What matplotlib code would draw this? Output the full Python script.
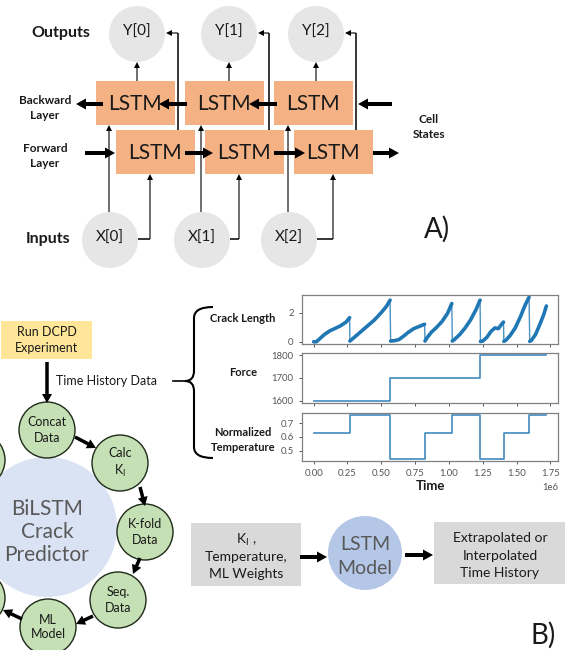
import matplotlib.pyplot as plt
from matplotlib.patches import Circle, Rectangle, PathPatch
from matplotlib.path import Path
import numpy as np

plt.rcParams['font.family'] = ['Lato', 'DejaVu Sans']
plt.rcParams['mathtext.fontset'] = 'custom'
plt.rcParams['mathtext.rm'] = 'Lato'

# ---- time history data (time in units of 1e6) ----
crack_t = [
    [0.0, 0.02, 0.05, 0.08, 0.12, 0.16, 0.20, 0.24, 0.266],
    [0.268, 0.30, 0.35, 0.40, 0.45, 0.50, 0.54, 0.565],
    [0.569, 0.60, 0.63, 0.66, 0.70, 0.74, 0.78, 0.82],
    [0.823, 0.84, 0.87, 0.91, 0.95, 0.99, 1.021],
    [1.025, 1.04, 1.08, 1.12, 1.16, 1.20, 1.23],
    [1.233, 1.25, 1.28, 1.31, 1.34, 1.365, 1.385, 1.403],
    [1.406, 1.42, 1.45, 1.49, 1.53, 1.56, 1.592],
    [1.597, 1.61, 1.64, 1.67, 1.70, 1.72],
]
crack_len = [
    [0.0, 0.0, 0.25, 0.5, 0.75, 0.92, 1.1, 1.35, 1.65],
    [0.05, 0.3, 0.7, 1.1, 1.5, 2.0, 2.45, 2.85],
    [0.05, 0.08, 0.15, 0.35, 0.65, 0.9, 1.05, 1.2],
    [0.05, 0.3, 0.65, 1.0, 1.4, 1.95, 2.62],
    [0.05, 0.15, 0.5, 0.95, 1.5, 2.2, 2.85],
    [0.02, 0.05, 0.3, 0.7, 0.95, 0.9, 1.15, 1.35],
    [0.03, 0.1, 0.4, 0.95, 1.75, 2.45, 3.05],
    [0.03, 0.1, 0.5, 1.15, 1.85, 2.45],
]
force_t = [0.0, 0.567, 1.232, 1.72]
force = [1600, 1700, 1800, 1800]
temp_t = [0.0, 0.266, 0.567, 0.822, 1.023, 1.232, 1.405, 1.595, 1.72]
temp = [0.625, 0.757, 0.44, 0.625, 0.757, 0.44, 0.625, 0.757, 0.757]

# ---- diagram labels ----
y_labels = ['Y[0]', 'Y[1]', 'Y[2]']
x_labels = ['X[0]', 'X[1]', 'X[2]']
ring_labels = ['Concat\nData', 'Calc\nK$_\\mathregular{I}$', 'K-fold\nData',
               'Seq.\nData', 'ML\nModel', '', '']
in_lines = ['K$_\\mathregular{I}$ ,', 'Temperature,', 'ML Weights']
out_lines = ['Extrapolated or', 'Interpolated', 'Time History']

fig = plt.figure(figsize=(5.74, 6.5), dpi=100)
ax = fig.add_axes([0, 0, 1, 1])
ax.set_xlim(0, 574)
ax.set_ylim(650, 0)
ax.axis('off')

ORANGE = '#F4B183'
GREY = '#E6E6E6'
INK = '#1a1a1a'


def big_arrow(x0, y0, x1, y1, w=4, hw=11, hl=10):
    ax.arrow(x0, y0, x1 - x0, y1 - y0, width=w, head_width=hw, head_length=hl,
             length_includes_head=True, color='black', lw=0, zorder=5)


def thin_arrow(pts):
    xs, ys = zip(*pts)
    ax.plot(xs[:-1], ys[:-1], color='black', lw=1.1, zorder=4, solid_capstyle='butt')
    ax.arrow(xs[-2], ys[-2], xs[-1] - xs[-2], ys[-1] - ys[-2], width=1.1,
             head_width=6, head_length=6, length_includes_head=True,
             color='black', lw=0, zorder=4)


# ---- part A: bidirectional LSTM ----
y_cx = [137, 229, 316]
x_cx = [110, 202, 289]
bw_x = [96, 185, 274]
fw_x = [116, 205, 294]
for i in range(3):
    ax.add_patch(Circle((y_cx[i], 34), 28, fc=GREY, ec='none'))
    ax.text(y_cx[i], 32, y_labels[i], ha='center', va='center', fontsize=11, color=INK)
    ax.add_patch(Circle((x_cx[i], 240), 28, fc=GREY, ec='none'))
    ax.text(x_cx[i], 238, x_labels[i], ha='center', va='center', fontsize=11, color=INK)
    ax.add_patch(Rectangle((bw_x[i], 81), 79, 44, fc=ORANGE, ec='none', zorder=2))
    ax.text(bw_x[i] + 39, 104, 'LSTM', ha='center', va='center', fontsize=15, color=INK, zorder=6)
    ax.add_patch(Rectangle((fw_x[i], 130), 79, 44, fc=ORANGE, ec='none', zorder=2))
    ax.text(fw_x[i] + 39, 153, 'LSTM', ha='center', va='center', fontsize=15, color=INK, zorder=6)

    # input to backward cell
    thin_arrow([(x_cx[i] - 1, 212), (x_cx[i] - 1, 125)])
    # input to forward cell
    xf = [150, 239, 333][i]
    thin_arrow([(x_cx[i] + 28, 239), (xf, 239), (xf, 174)])
    # forward cell to output
    xu = [178, 269, 356][i]
    thin_arrow([(xu, 130), (xu, 33), (y_cx[i] + 29, 33)])
    # backward cell to output
    thin_arrow([(y_cx[i], 81), (y_cx[i], 62)])

for x0, x1 in [(392, 358), (277, 249), (187, 159), (103, 76)]:
    big_arrow(x0, 104, x1, 104)
for x0, x1 in [(85, 115), (185, 213), (274, 305), (373, 399)]:
    big_arrow(x0, 153, x1, 153)

ax.text(61, 33, 'Outputs', ha='center', va='center', fontsize=11.5, fontweight='bold', color=INK)
ax.text(48, 239, 'Inputs', ha='center', va='center', fontsize=11.5, fontweight='bold', color=INK)
ax.text(45, 108, 'Backward\nLayer', ha='center', va='center', fontsize=8.5,
        fontweight='bold', linespacing=1.45, color=INK)
ax.text(45, 156, 'Forward\nLayer', ha='center', va='center', fontsize=8.5,
        fontweight='bold', linespacing=1.45, color=INK)
ax.text(429, 127, 'Cell\nStates', ha='center', va='center', fontsize=8.5,
        fontweight='bold', linespacing=1.45, color=INK)
ax.text(437, 229, 'A)', ha='center', va='center', fontsize=20, color=INK)

# ---- part B: workflow ----
ax.add_patch(Rectangle((1, 321), 91, 38, fc='#FFE699', ec='none'))
ax.text(47, 340, 'Run DCPD\nExperiment', ha='center', va='center', fontsize=9,
        color=INK, linespacing=1.3)
big_arrow(47, 362, 47, 403, w=3.5, hw=10, hl=9)
ax.text(56, 381, 'Time History Data', ha='left', va='center', fontsize=9, color=INK)
ax.plot([173, 186], [381, 381], color='black', lw=1.2)

brace = Path(
    [(213, 307), (194, 307), (194, 318), (194, 371), (194, 381), (185, 381),
     (194, 381), (194, 391), (194, 447), (194, 458), (213, 458)],
    [Path.MOVETO, Path.CURVE3, Path.CURVE3, Path.LINETO, Path.CURVE3, Path.CURVE3,
     Path.CURVE3, Path.CURVE3, Path.LINETO, Path.CURVE3, Path.CURVE3])
ax.add_patch(PathPatch(brace, fc='none', ec='black', lw=1.5))

ax.add_patch(Circle((47, 527), 70, fc='#DAE3F3', ec='none', zorder=1))
ax.text(47, 532, 'BiLSTM\nCrack\nPredictor', ha='center', va='center', fontsize=15,
        color='#595959', linespacing=1.2, zorder=2)

ring_xy = [(47, 430), (120, 463), (145, 532), (118, 600), (48, 627), (-23, 598), (-23, 460)]
for (cx, cy), lab in zip(ring_xy, ring_labels):
    ax.add_patch(Circle((cx, cy), 28, fc='#C5E0B4', ec='#1e2a1a', lw=1, zorder=3))
    ax.text(cx, cy, lab, ha='center', va='center', fontsize=9, color=INK,
            linespacing=1.3, zorder=4)

for x0, y0, x1, y1 in [(75, 437, 96, 448), (140, 487, 145, 506), (140, 558, 133, 574),
                       (93, 616, 76, 624), (22, 619, 3, 610)]:
    big_arrow(x0, y0, x1, y1, w=3.5, hw=10, hl=9)

ax.add_patch(Rectangle((191, 523), 110, 63, fc='#D9D9D9', ec='none'))
for k, line in enumerate(in_lines):
    ax.text(246, 540 + 17 * k, line, ha='center', va='center', fontsize=10, color=INK)
big_arrow(300, 557, 327, 557)
ax.add_patch(Circle((365, 553), 37, fc='#B4C7E7', ec='none'))
ax.text(365, 545, 'LSTM', ha='center', va='center', fontsize=14, color='#595959')
ax.text(365, 568, 'Model', ha='center', va='center', fontsize=14, color='#595959')
big_arrow(405, 555, 433, 555)
ax.add_patch(Rectangle((434, 522), 131, 62, fc='#D9D9D9', ec='none'))
for k, line in enumerate(out_lines):
    ax.text(500, 538 + 17.5 * k, line, ha='center', va='center', fontsize=10, color=INK)
ax.text(543, 635, 'B)', ha='center', va='center', fontsize=20, color=INK)

ax.text(243, 319, 'Crack Length', ha='center', va='center', fontsize=8, fontweight='bold', color=INK)
ax.text(243, 373, 'Force', ha='center', va='center', fontsize=8, fontweight='bold', color=INK)
ax.text(243, 440, 'Normalized\nTemperature', ha='center', va='center', fontsize=8,
        fontweight='bold', linespacing=1.5, color=INK)

# ---- time history panels ----
W, H = 574, 650
def panel(top, bottom):
    a = fig.add_axes([302 / W, 1 - bottom / H, 256 / W, (bottom - top) / H])
    for s in a.spines.values():
        s.set_color('#808080')
        s.set_linewidth(0.9)
    a.tick_params(labelsize=6.8, colors='#555555', length=2.5, width=0.7)
    return a

ax1 = panel(295, 344)
ax2 = panel(353, 403)
ax3 = panel(413, 461)

BLUE = '#1f77b4'
all_t = np.concatenate([np.array(t) for t in crack_t]) * 1e6
all_c = np.concatenate([np.array(c) for c in crack_len])
ax1.plot(all_t, all_c, color=BLUE, lw=1.0, alpha=0.8)
for t, c in zip(crack_t, crack_len):
    ax1.plot(np.array(t) * 1e6, c, color=BLUE, lw=2.6, solid_capstyle='round')
ax1.set_yticks([0, 2])

ax2.step(np.array(force_t) * 1e6, force, where='post', color=BLUE, lw=1.2, alpha=0.85)
ax2.set_yticks([1600, 1700, 1800])

ax3.step(np.array(temp_t) * 1e6, temp, where='post', color=BLUE, lw=1.2, alpha=0.85)
ax3.set_yticks([0.5, 0.6, 0.7])

for a in (ax1, ax2, ax3):
    a.set_xlim(-0.086e6, 1.806e6)
    a.set_xticks(np.arange(0, 1.76e6, 0.25e6))
for a in (ax1, ax2):
    a.tick_params(labelbottom=False)
ax3.xaxis.get_offset_text().set_fontsize(6.8)
ax3.xaxis.get_offset_text().set_color('#555555')
ax3.set_xlabel('Time', fontsize=9.5, fontweight='bold', labelpad=1, color=INK)

fig.savefig('out.png', dpi=100)
